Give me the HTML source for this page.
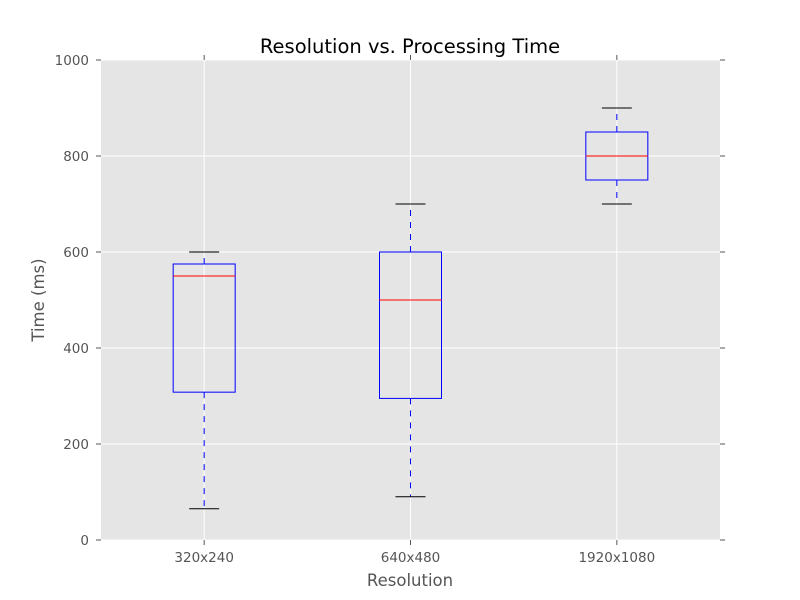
<!DOCTYPE html>
<html><head><meta charset="utf-8"><style>
body{margin:0;background:#fff;}
svg{display:block;font-family:"DejaVu Sans","Liberation Sans",sans-serif;}
</style></head><body>
<svg id="chart" width="800" height="600">
<rect x="101" y="60" width="619" height="480" fill="#e5e5e5"/>
<g id="grid"></g><g id="boxes"></g><g id="axes"></g>
<text x="410" y="53" text-anchor="middle" font-size="19.5" fill="#000">Resolution vs. Processing Time</text>
<text x="410" y="586" text-anchor="middle" font-size="16.5" fill="#555">Resolution</text>
<text x="44" y="300" text-anchor="middle" font-size="16.5" fill="#555" transform="rotate(-90 44 300)">Time (ms)</text>
</svg>
<script>
const categories=["320x240","640x480","1920x1080"];
const whiskerLow=[65,90,700];
const q1=[308,295,750];
const medians=[550,500,800];
const q3=[575,600,850];
const whiskerHigh=[600,700,900];
const yTicks=[0,200,400,600,800,1000];

const L=101,R=720,T=60,B=540;
const xs=i=>L+(i+0.5)*(R-L)/categories.length;
const ys=v=>B-(v/1000)*(B-T);
const NS="http://www.w3.org/2000/svg";
function mk(tag,attrs,parent,text){const e=document.createElementNS(NS,tag);for(const k in attrs)e.setAttribute(k,attrs[k]);if(text!==undefined)e.textContent=text;document.getElementById(parent).appendChild(e);return e;}

yTicks.forEach(v=>{const y=ys(v);
 let g=mk('line',{x1:L,x2:R,y1:y,y2:y,stroke:'#fff','stroke-width':1},'grid');
 
 
 mk('line',{x1:L,x2:L-5,y1:y,y2:y,stroke:'#555'},'axes');
 mk('line',{x1:R,x2:R+5,y1:y,y2:y,stroke:'#555'},'axes');
 let t=mk('text',{x:L-12,y:y+5,'text-anchor':'end','font-size':13.5,fill:'#555'},'axes',v);
 
 
});
categories.forEach((c,i)=>{const x=xs(i);
 let g=mk('line',{x1:x,x2:x,y1:T,y2:B,stroke:'#fff'},'grid');
 
 
 mk('line',{x1:x,x2:x,y1:B,y2:B+5,stroke:'#555'},'axes');
 mk('line',{x1:x,x2:x,y1:T,y2:T-5,stroke:'#555'},'axes');
 let t=mk('text',{x:x,y:B+22,'text-anchor':'middle','font-size':13.5,fill:'#555'},'axes',c);
 
 
 const w=31,cw=15;
 mk('line',{x1:x,x2:x,y1:ys(q1[i]),y2:ys(whiskerLow[i]),stroke:'#0000ff','stroke-dasharray':'6,6'},'boxes');
 mk('line',{x1:x,x2:x,y1:ys(q3[i]),y2:ys(whiskerHigh[i]),stroke:'#0000ff','stroke-dasharray':'6,6'},'boxes');
 let cl=mk('line',{x1:x-cw,x2:x+cw,y1:ys(whiskerLow[i]),y2:ys(whiskerLow[i]),stroke:'#000'},'boxes');
 
 
 let ch=mk('line',{x1:x-cw,x2:x+cw,y1:ys(whiskerHigh[i]),y2:ys(whiskerHigh[i]),stroke:'#000'},'boxes');
 
 
 let b=mk('rect',{x:x-w,y:ys(q3[i]),width:2*w,height:ys(q1[i])-ys(q3[i]),fill:'none',stroke:'#0000ff'},'boxes');
 
 
 let m=mk('line',{x1:x-w,x2:x+w,y1:ys(medians[i]),y2:ys(medians[i]),stroke:'#ff0000'},'boxes');
 
 
});
</script>
</body></html>
